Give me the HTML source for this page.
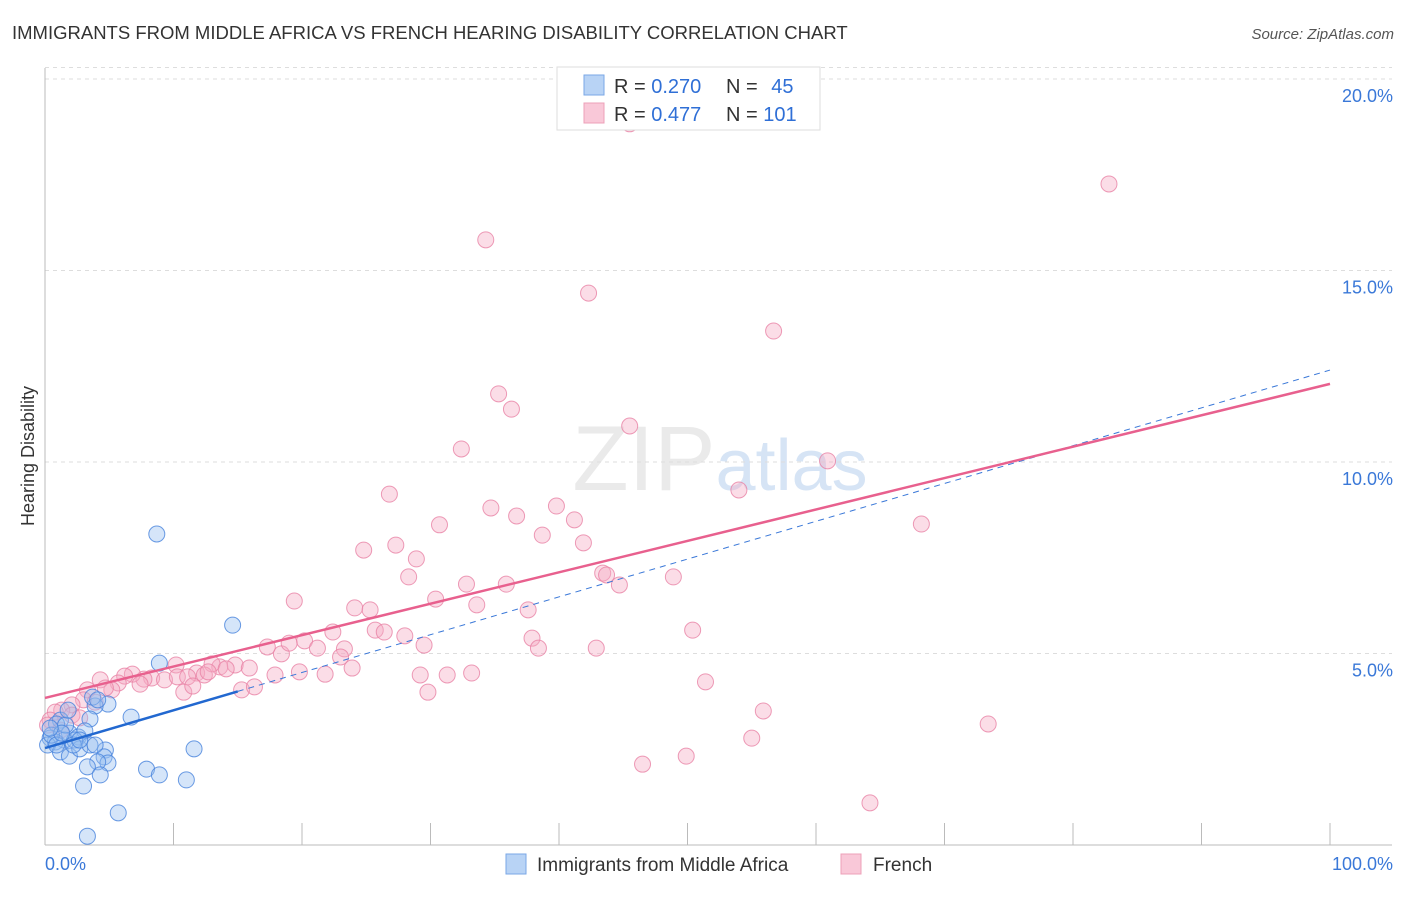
<!DOCTYPE html>
<html><head><meta charset="utf-8">
<style>
body{margin:0;background:#fff;font-family:"Liberation Sans",sans-serif;}
svg text{font-family:"Liberation Sans",sans-serif;}
</style></head>
<body>
<svg id="chart" width="1406" height="892" xmlns="http://www.w3.org/2000/svg">
<text x="12" y="39" font-size="18.5" fill="#333">IMMIGRANTS FROM MIDDLE AFRICA VS FRENCH HEARING DISABILITY CORRELATION CHART</text>
<text x="1394" y="39" font-size="15" fill="#555" text-anchor="end" font-style="italic">Source: ZipAtlas.com</text>
<text x="720" y="490" font-size="92" fill="#ddd" text-anchor="middle" font-family="Liberation Serif" opacity="0.6">ZIP<tspan fill="#bcd3ef" font-family="Liberation Sans" font-size="72">atlas</tspan></text>
<text transform="translate(34,456) rotate(-90)" font-size="18" fill="#333" text-anchor="middle">Hearing Disability</text>
<g id="grid"></g>
<g id="axes"></g>
<g id="marks"></g>
<g>
<rect x="557" y="67" width="263" height="63" fill="#fff" stroke="#ddd"/>
<rect x="584" y="75" width="20" height="20" fill="#b8d3f5" stroke="#7aa7e6"/>
<rect x="584" y="103" width="20" height="20" fill="#f9c8d8" stroke="#eda0b8"/>
<text x="614" y="93" font-size="20" fill="#333">R = <tspan fill="#2f6fd6">0.270</tspan></text>
<text x="726" y="93" font-size="20" fill="#333">N = <tspan fill="#2f6fd6" dx="8">45</tspan></text>
<text x="614" y="121" font-size="20" fill="#333">R = <tspan fill="#2f6fd6">0.477</tspan></text>
<text x="726" y="121" font-size="20" fill="#333">N = <tspan fill="#2f6fd6">101</tspan></text>
</g>
<g>
<rect x="506" y="854" width="20" height="20" fill="#b8d3f5" stroke="#7aa7e6"/>
<text x="537" y="871" font-size="19" fill="#333">Immigrants from Middle Africa</text>
<rect x="841" y="854" width="20" height="20" fill="#f9c8d8" stroke="#eda0b8"/>
<text x="873" y="871" font-size="19" fill="#333">French</text>
</g>
</svg>
<script>
const xTicks=[0,10,20,30,40,50,60,70,80,90,100];
const yTicks=[5,10,15,20];
const yTickLabels=["5.0%","10.0%","15.0%","20.0%"];
const blueX=[8.7,14.6,8.9,6.7,4.9,3.9,3.7,3.5,1.2,0.9,1.9,2.6,3.1,1.5,2.3,0.4,0.8,0.2,1.2,1.9,2.7,4.7,4.6,4.9,4.1,3.3,4.3,7.9,8.9,11.0,11.6,3.0,5.7,3.3,0.5,1.6,2.2,3.5,0.9,1.3,2.7,3.9,0.4,1.8,4.1];
const blueY=[8.12,5.74,4.75,3.34,3.68,3.63,3.86,3.29,3.26,3.16,2.92,2.82,2.98,2.74,2.74,2.79,2.69,2.61,2.43,2.32,2.51,2.48,2.30,2.14,2.17,2.04,1.83,1.98,1.83,1.70,2.51,1.54,0.84,0.23,2.87,3.13,2.61,2.61,2.61,2.92,2.74,2.61,3.05,3.52,3.79];
const pinkX=[45.5,82.8,34.3,42.3,56.7,35.3,36.3,45.5,32.4,60.9,26.8,54.0,39.8,34.7,36.7,41.2,30.7,68.2,38.7,41.9,24.8,27.3,28.9,28.3,32.8,35.9,43.4,43.7,48.9,44.7,19.4,30.4,24.1,25.3,33.6,37.6,25.7,26.4,28.0,22.4,50.4,37.9,38.4,42.9,29.5,20.2,21.2,18.4,17.3,23.3,23.0,19.0,14.8,15.9,13.6,13.0,14.1,11.8,12.4,10.2,8.3,9.3,10.3,11.1,7.7,6.8,6.2,7.4,10.8,11.5,12.7,15.3,16.3,17.9,19.8,21.8,23.9,29.2,31.3,33.2,29.8,51.4,5.7,5.2,4.3,3.3,4.7,3.0,2.1,1.3,0.8,0.4,2.1,2.7,3.9,55.9,73.4,55.0,49.9,46.5,64.2,0.2,1.2];
const pinkY=[18.83,17.26,15.80,14.41,13.42,11.78,11.38,10.94,10.34,10.03,9.16,9.27,8.85,8.80,8.59,8.49,8.36,8.38,8.09,7.89,7.70,7.83,7.47,7.00,6.81,6.81,7.10,7.05,7.00,6.79,6.37,6.42,6.19,6.14,6.27,6.14,5.61,5.56,5.46,5.56,5.61,5.40,5.14,5.14,5.22,5.33,5.14,4.99,5.17,5.12,4.91,5.27,4.70,4.62,4.65,4.73,4.60,4.49,4.44,4.70,4.36,4.31,4.39,4.39,4.33,4.46,4.41,4.20,3.99,4.15,4.52,4.05,4.13,4.44,4.52,4.46,4.62,4.44,4.44,4.49,3.99,4.26,4.23,4.05,4.31,4.05,4.10,3.79,3.66,3.52,3.47,3.26,3.39,3.32,3.73,3.50,3.16,2.79,2.32,2.11,1.10,3.13,3.00];
const blueTrend=[2.53,12.40];
const pinkTrend=[3.84,12.04];
const NS="http://www.w3.org/2000/svg";
const X=v=>45+v*12.85, Y=v=>845-v*38.3;
function mk(t,a,p){const e=document.createElementNS(NS,t);for(const k in a)e.setAttribute(k,a[k]);p.appendChild(e);return e;}
const gridG=document.getElementById('grid'),axesG=document.getElementById('axes'),marksG=document.getElementById('marks');
yTicks.forEach((v,i)=>{
 const l=mk('line',{x1:45,x2:1392,y1:Y(v),y2:Y(v),stroke:'#ddd','stroke-dasharray':'4,4'},gridG);
 
 
 const t=mk('text',{x:1393,y:Y(v)+23,'font-size':18,fill:'#3a78d8','text-anchor':'end'},axesG);
 t.textContent=yTickLabels[i];
 
 
});
const topGrid=mk('line',{x1:45,x2:1392,y1:Y(20.3),y2:Y(20.3),stroke:'#ddd','stroke-dasharray':'4,4'},gridG);


const ya=mk('line',{x1:45,x2:45,y1:68,y2:845,stroke:'#bbb'},axesG);


const xa=mk('line',{x1:45,x2:1392,y1:845,y2:845,stroke:'#bbb'},axesG);


xTicks.forEach(v=>{
 const l=mk('line',{x1:X(v),x2:X(v),y1:823,y2:845,stroke:'#bbb'},axesG);
 
 
});
[[0,'0.0%','start',45],[100,'100.0%','end',1393]].forEach(d=>{
 const t=mk('text',{x:d[3],y:870,'font-size':18,fill:'#3a78d8','text-anchor':d[2]},axesG);
 t.textContent=d[1];
 
 
});
pinkX.forEach((v,i)=>{
 const c=mk('circle',{cx:X(v),cy:Y(pinkY[i]),r:8,fill:'rgba(246,170,195,0.4)',stroke:'rgba(232,130,165,0.8)','stroke-width':1},marksG);
 
 
});
blueX.forEach((v,i)=>{
 const c=mk('circle',{cx:X(v),cy:Y(blueY[i]),r:8,fill:'rgba(150,190,240,0.4)',stroke:'rgba(70,130,220,0.8)','stroke-width':1},marksG);
 
 
});
const bAt=x=>blueTrend[0]+(blueTrend[1]-blueTrend[0])*x/100;
const bd=mk('line',{x1:X(15),y1:Y(bAt(15)),x2:X(100),y2:Y(blueTrend[1]),stroke:'#3a78d8','stroke-width':1,'stroke-dasharray':'6,5'},marksG);


const bs=mk('line',{x1:X(0),y1:Y(blueTrend[0]),x2:X(15),y2:Y(bAt(15)),stroke:'#2268d0','stroke-width':2.5},marksG);


const pl=mk('line',{x1:X(0),y1:Y(pinkTrend[0]),x2:X(100),y2:Y(pinkTrend[1]),stroke:'#e8608e','stroke-width':2.5},marksG);


</script>
</body></html>
